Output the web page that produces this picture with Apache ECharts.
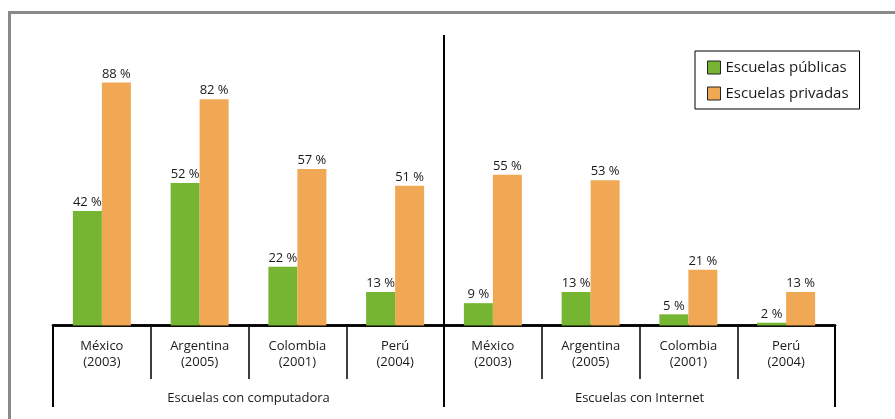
<!DOCTYPE html>
<html>
<head>
<meta charset="utf-8">
<script src="https://cdn.jsdelivr.net/npm/echarts@6/dist/echarts.min.js"></script>
<style>
  html, body { margin: 0; padding: 0; background: #fff; }
  #wrap { position: relative; width: 895px; height: 419px; overflow: hidden; }
  #frame { position: absolute; left: 8px; top: 11px; width: 900px; height: 420px;
           border-top: 3px solid #8a8a8a; border-left: 3px solid #8a8a8a; box-sizing: border-box; }
  #chart { position: absolute; left: 0; top: 0; width: 895px; height: 419px; }
</style>
</head>
<body>
<div id="wrap">
  <div id="frame"></div>
  <div id="chart"></div>
</div>
<script>
const countries = ['México', 'Argentina', 'Colombia', 'Perú', 'México', 'Argentina', 'Colombia', 'Perú'];
const years = ['2003', '2005', '2001', '2004', '2003', '2005', '2001', '2004'];
const groups = ['Escuelas con computadora', 'Escuelas con Internet'];
const seriesNames = ['Escuelas públicas', 'Escuelas privadas'];
const publicas = [42, 52, 22, 13, 9, 13, 5, 2];
const privadas = [88, 82, 57, 51, 55, 53, 21, 13];

const categories = countries.map((c, i) => c + '\n(' + years[i] + ')');
const FONT = '"Open Sans", "Noto Sans", sans-serif';
const TXT = '#1a1a1a';
const Y_MIN = 1, Y_MAX = 105;

const chart = echarts.init(document.getElementById('chart'), null, { renderer: 'canvas' });

const labelStyle = {
  show: true, position: 'top', distance: 2,
  formatter: '{c} %', color: TXT, fontSize: 13, fontFamily: FONT
};

chart.setOption({
  animation: false,
  textStyle: { fontFamily: FONT },
  grid: { left: 53, right: 60, top: 35, bottom: 93.5, containLabel: false },
  legend: {
    orient: 'vertical', left: 695, top: 51,
    data: seriesNames,
    icon: 'rect', itemWidth: 13, itemHeight: 13, itemGap: 8,
    padding: [7.5, 11, 6.5, 12],
    borderColor: '#000', borderWidth: 1, backgroundColor: '#fff',
    textStyle: { fontSize: 15, lineHeight: 18, color: TXT, fontFamily: FONT },
    itemStyle: { borderColor: '#222', borderWidth: 1 }
  },
  xAxis: [
    {
      type: 'category', data: categories, position: 'bottom',
      axisLine: { show: true, lineStyle: { color: '#000', width: 2.5 } },
      axisTick: { show: true, length: 53.5, lineStyle: { color: '#000', width: 1.5 } },
      axisLabel: { color: TXT, fontSize: 13, lineHeight: 16, margin: 13, fontFamily: FONT, interval: 0 }
    },
    {
      type: 'category', data: groups, position: 'bottom', offset: 0,
      axisLine: { show: true, lineStyle: { color: '#000', width: 2.5 } },
      axisTick: { show: true, length: 81.5, lineStyle: { color: '#000', width: 2 } },
      axisLabel: { color: TXT, fontSize: 13, margin: 66.5, fontFamily: FONT, interval: 0 }
    }
  ],
  yAxis: { type: 'value', min: Y_MIN, max: Y_MAX, show: false, splitLine: { show: false } },
  series: [
    {
      name: seriesNames[0], type: 'bar', data: publicas, barWidth: 29, barGap: '0%',
      itemStyle: { color: '#76b532' }, label: labelStyle
    },
    {
      name: seriesNames[1], type: 'bar', data: privadas, barWidth: 29, barGap: '0%',
      itemStyle: { color: '#f0a854' }, label: labelStyle
    },
    {
      type: 'custom', silent: true, clip: false, z: 5,
      data: [[3, Y_MIN]],
      renderItem: function (params, api) {
        const a = api.coord([3, Y_MIN]);
        const b = api.coord([4, Y_MIN]);
        const x = (a[0] + b[0]) / 2;
        const top = api.coord([0, Y_MAX])[1];
        return {
          type: 'line',
          shape: { x1: x, y1: top, x2: x, y2: a[1] },
          style: { stroke: '#000', lineWidth: 2 }
        };
      }
    }
  ]
});
</script>
</body>
</html>
